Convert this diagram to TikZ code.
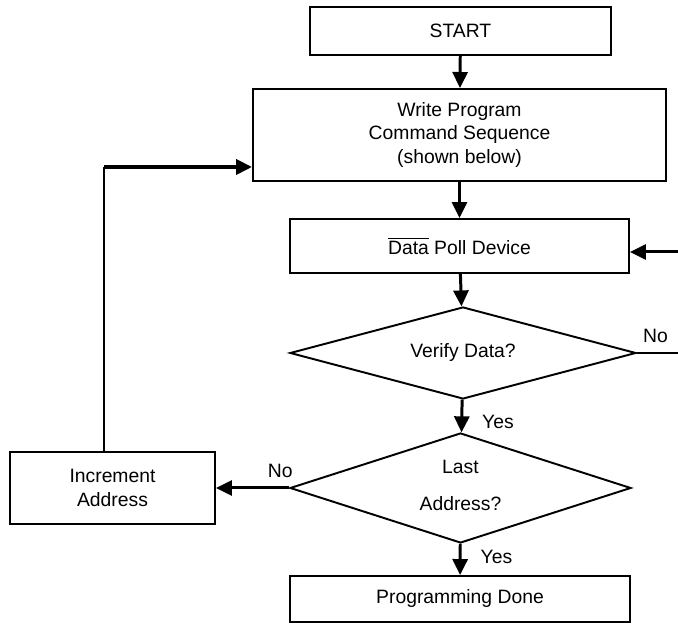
\documentclass[tikz,border=0pt]{standalone}
\usepackage{fontspec}
\setmainfont{Liberation Sans}
\usetikzlibrary{shapes.geometric,arrows.meta}
\begin{document}
\begin{tikzpicture}[
	box/.style={draw, line width=1.1pt, inner sep=0pt, align=center},
	decision/.style={draw, diamond, line width=1.1pt, inner sep=0pt, align=center},
	flow/.style={line width=1.7pt, -{Triangle[length=0.32cm,width=0.3cm]}},
	lbl/.style={font=\fontsize{11}{13}\selectfont}]
\fontsize{11}{13.6}\selectfont
\useasboundingbox (0,0) rectangle (13.56,12.48);
% boxes of the flow
	\node[box, minimum width=6.02cm, minimum height=0.96cm] (start) at (9.21,11.86) {START};
	\node[box, minimum width=8.26cm, minimum height=1.84cm] (write) at (9.19,9.78)
		{Write Program\\Command Sequence\\(shown below)};
	\node[box, minimum width=6.78cm, minimum height=1.08cm] (poll) at (9.19,7.56)
		{$\overline{\hbox{Data}}$ Poll Device};
	\node[decision, aspect=3.5, minimum width=6.92cm, minimum height=1.84cm] (verify) at (9.26,5.42)
		{Verify Data?};
	\node[decision, aspect=3, minimum width=6.82cm, minimum height=2.2cm] (last) at (9.21,2.72)
		{\raisebox{3pt}{Last}\\[7pt]\raisebox{3pt}{Address?}};
	\node[box, minimum width=4.1cm, minimum height=1.44cm] (inc) at (2.25,2.72)
		{Increment\\Address};
	\node[box, minimum width=6.8cm, minimum height=0.92cm] (done) at (9.2,0.5)
		{Programming Done};
% connectors
	\draw[flow] (start) -- (write);
	\draw[flow] (write) -- (poll);
	\draw[flow] (poll) -- (verify);
	\draw[flow] (verify) -- node[lbl, right, pos=0.68, xshift=0.25cm] {Yes} (last);
	\draw[flow] (last) -- node[lbl, right, pos=0.42, xshift=0.25cm] {Yes} (done);
	\draw[flow] (last.west) -- node[lbl, above, pos=0.12, yshift=0.05cm] {No} (inc.east);
% loop back to the program command
	\coordinate (up) at (2.08,9.14);
	\draw[line width=1.2pt] (inc.north -| up) -- (up);
	\draw[flow, line width=2.2pt] (up) -- (write.west |- up);
% loop back to the poll (off the page)
	\coordinate (out) at (13.56,5.42);
	\coordinate (back) at (13.56,7.44);
	\draw[line width=1.1pt] (verify.east) -- node[lbl, above, pos=0.45, yshift=0.05cm] {No} (out);
	\draw[flow] (back) -- (back -| poll.east);
\end{tikzpicture}
\end{document}
